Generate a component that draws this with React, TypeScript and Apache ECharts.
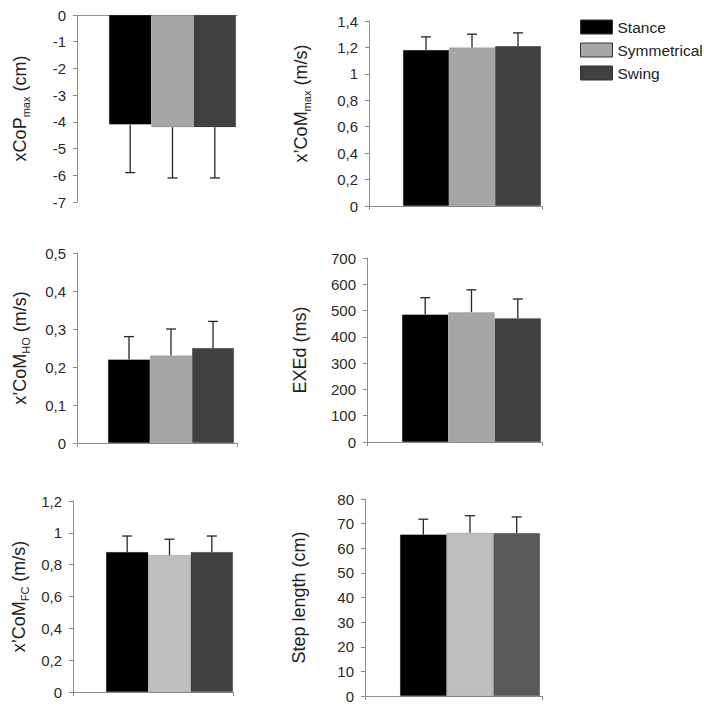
import React, { useEffect, useRef } from 'react';
import * as echarts from 'echarts';

// ---- data ----
const groups = ['Stance', 'Symmetrical', 'Swing'];

const xcopMaxMean = [-4.1, -4.2, -4.2];
const xcopMaxErrEnd = [-5.9, -6.1, -6.1];

const xcomMaxMean = [1.18, 1.2, 1.21];
const xcomMaxErrEnd = [1.28, 1.3, 1.31];

const xcomHoMean = [0.22, 0.23, 0.25];
const xcomHoErrEnd = [0.28, 0.3, 0.32];

const exedMean = [485, 494, 471];
const exedErrEnd = [549, 579, 544];

const xcomFcMean = [0.88, 0.86, 0.88];
const xcomFcErrEnd = [0.98, 0.96, 0.98];

const stepMean = [65.6, 66.3, 66.2];
const stepErrEnd = [71.8, 73.2, 72.7];

// y axis ranges: [min, max, interval]
const yRanges = [
  [-7, 0, 1],
  [0, 1.4, 0.2],
  [0, 0.5, 0.1],
  [0, 700, 100],
  [0, 1.2, 0.2],
  [0, 80, 10],
];

const titles = [
  '{m|xCoP}{s|max}{m| (cm)}',
  '{m|x\u2019CoM}{s|max}{m| (m/s)}',
  '{m|x\u2019CoM}{s|HO}{m| (m/s)}',
  '{m|EXEd (ms)}',
  '{m|x\u2019CoM}{s|FC}{m| (m/s)}',
  '{m|Step length (cm)}',
];

const means = [xcopMaxMean, xcomMaxMean, xcomHoMean, exedMean, xcomFcMean, stepMean];
const errEnds = [xcopMaxErrEnd, xcomMaxErrEnd, xcomHoErrEnd, exedErrEnd, xcomFcErrEnd, stepErrEnd];

const palettes = [
  ['#000000', '#a6a6a6', '#404040'],
  ['#000000', '#a6a6a6', '#404040'],
  ['#000000', '#a6a6a6', '#404040'],
  ['#000000', '#a6a6a6', '#404040'],
  ['#000000', '#bfbfbf', '#404040'],
  ['#000000', '#bfbfbf', '#595959'],
];

// ---- layout ----
const layouts = [
  { axisLeft: 77, axisRight: 237, barLeft: 109, barRight: 236, top: 15, bottom: 202, nameGap: 46, namePad: 0, xTick: false },
  { axisLeft: 369, axisRight: 542, barLeft: 403, barRight: 541, top: 21, bottom: 206, nameGap: 57, namePad: 20, xTick: true },
  { axisLeft: 77, axisRight: 237, barLeft: 108, barRight: 234, top: 253, bottom: 443, nameGap: 46, namePad: 0, xTick: true },
  { axisLeft: 367, axisRight: 542, barLeft: 402, barRight: 541, top: 258, bottom: 442, nameGap: 56, namePad: 0, xTick: true },
  { axisLeft: 73, axisRight: 233, barLeft: 106, barRight: 233, top: 501, bottom: 692, nameGap: 43, namePad: 0, xTick: true },
  { axisLeft: 365, axisRight: 542, barLeft: 400, barRight: 540, top: 499, bottom: 696, nameGap: 55, namePad: 0, xTick: true },
];

const FONT = 'Liberation Sans, Arial, sans-serif';
const AXIS_COLOR = '#8c8c8c';

function buildOption() {
  const grid: any[] = [];
  const xAxis: any[] = [];
  const yAxis: any[] = [];
  const series: any[] = [];

  layouts.forEach((L, k) => {
    const [mn, mx, iv] = yRanges[k];
    const a = 2 * k;
    const b = 2 * k + 1;
    grid.push({ left: L.axisLeft, top: L.top, width: L.axisRight - L.axisLeft, height: L.bottom - L.top, containLabel: false });
    grid.push({ left: L.barLeft, top: L.top, width: L.barRight - L.barLeft, height: L.bottom - L.top, containLabel: false });

    xAxis.push({
      gridIndex: a,
      type: 'category',
      data: [''],
      boundaryGap: true,
      axisLine: { show: true, lineStyle: { color: AXIS_COLOR, width: 1 } },
      axisTick: { show: L.xTick, length: 4, lineStyle: { color: AXIS_COLOR } },
      axisLabel: { show: false },
      splitLine: { show: false },
    });
    xAxis.push({ gridIndex: b, type: 'category', data: groups, show: false });

    yAxis.push({
      gridIndex: a,
      type: 'value',
      min: mn,
      max: mx,
      interval: iv,
      axisLine: { show: true, lineStyle: { color: AXIS_COLOR, width: 1 } },
      axisTick: { show: true, length: 4, lineStyle: { color: AXIS_COLOR } },
      splitLine: { show: false },
      axisLabel: {
        fontSize: 15,
        fontFamily: FONT,
        color: '#2a2a2a',
        margin: 11,
        formatter: (v: number) => String(v).replace('.', ','),
      },
      name: titles[k],
      nameLocation: 'middle',
      nameRotate: 90,
      nameGap: L.nameGap,
      nameTextStyle: {
        fontSize: 18,
        fontFamily: FONT,
        color: '#222',
        padding: [0, 0, 0, L.namePad],
        rich: {
          m: { fontSize: 18, fontFamily: FONT, color: '#222', lineHeight: 20, verticalAlign: 'top' },
          s: { fontSize: 11, fontFamily: FONT, color: '#222', lineHeight: 8, verticalAlign: 'bottom' },
        },
      },
    });
    yAxis.push({ gridIndex: b, type: 'value', min: mn, max: mx, show: false });

    groups.forEach((g, gi) => {
      series.push({
        type: 'bar',
        name: g,
        xAxisIndex: b,
        yAxisIndex: b,
        stack: 'panel' + k,
        barCategoryGap: '0%',
        data: groups.map((_, i) => (i === gi ? means[k][gi] : '-')),
        itemStyle: { color: palettes[k][gi], borderColor: 'rgba(0,0,0,0.25)', borderWidth: 0.5 },
        silent: true,
      });
    });

    series.push({
      type: 'custom',
      xAxisIndex: b,
      yAxisIndex: b,
      silent: true,
      z: 5,
      encode: { x: 0, y: [1, 2] },
      data: groups.map((_, i) => [i, means[k][i], errEnds[k][i]]),
      renderItem: (params: any, api: any) => {
        const i = api.value(0);
        const p0 = api.coord([i, api.value(1)]);
        const p1 = api.coord([i, api.value(2)]);
        const half = 5;
        const style = { stroke: '#262626', lineWidth: 1.3, fill: null };
        return {
          type: 'group',
          children: [
            { type: 'line', shape: { x1: p0[0], y1: p0[1], x2: p1[0], y2: p1[1] }, style },
            { type: 'line', shape: { x1: p1[0] - half, y1: p1[1], x2: p1[0] + half, y2: p1[1] }, style },
          ],
        };
      },
    });
  });

  return {
    animation: false,
    backgroundColor: '#ffffff',
    legend: {
      data: groups,
      orient: 'vertical',
      left: 575,
      top: 14,
      itemWidth: 32,
      itemHeight: 14,
      itemGap: 7,
      icon: 'rect',
      textStyle: { fontSize: 15.5, fontFamily: FONT, color: '#222' },
      itemStyle: { borderColor: '#333', borderWidth: 1 },
      selectedMode: false,
    },
    grid,
    xAxis,
    yAxis,
    series,
  };
}

export default function App() {
  const ref = useRef<HTMLDivElement>(null);
  useEffect(() => {
    if (!ref.current) return;
    const chart = echarts.init(ref.current, undefined, { renderer: 'svg' });
    chart.setOption(buildOption() as any);
    return () => chart.dispose();
  }, []);
  return (
    <div
      ref={ref}
      style={{ position: 'absolute', left: 0, top: 0, width: 704, height: 712, background: '#fff' }}
    />
  );
}
